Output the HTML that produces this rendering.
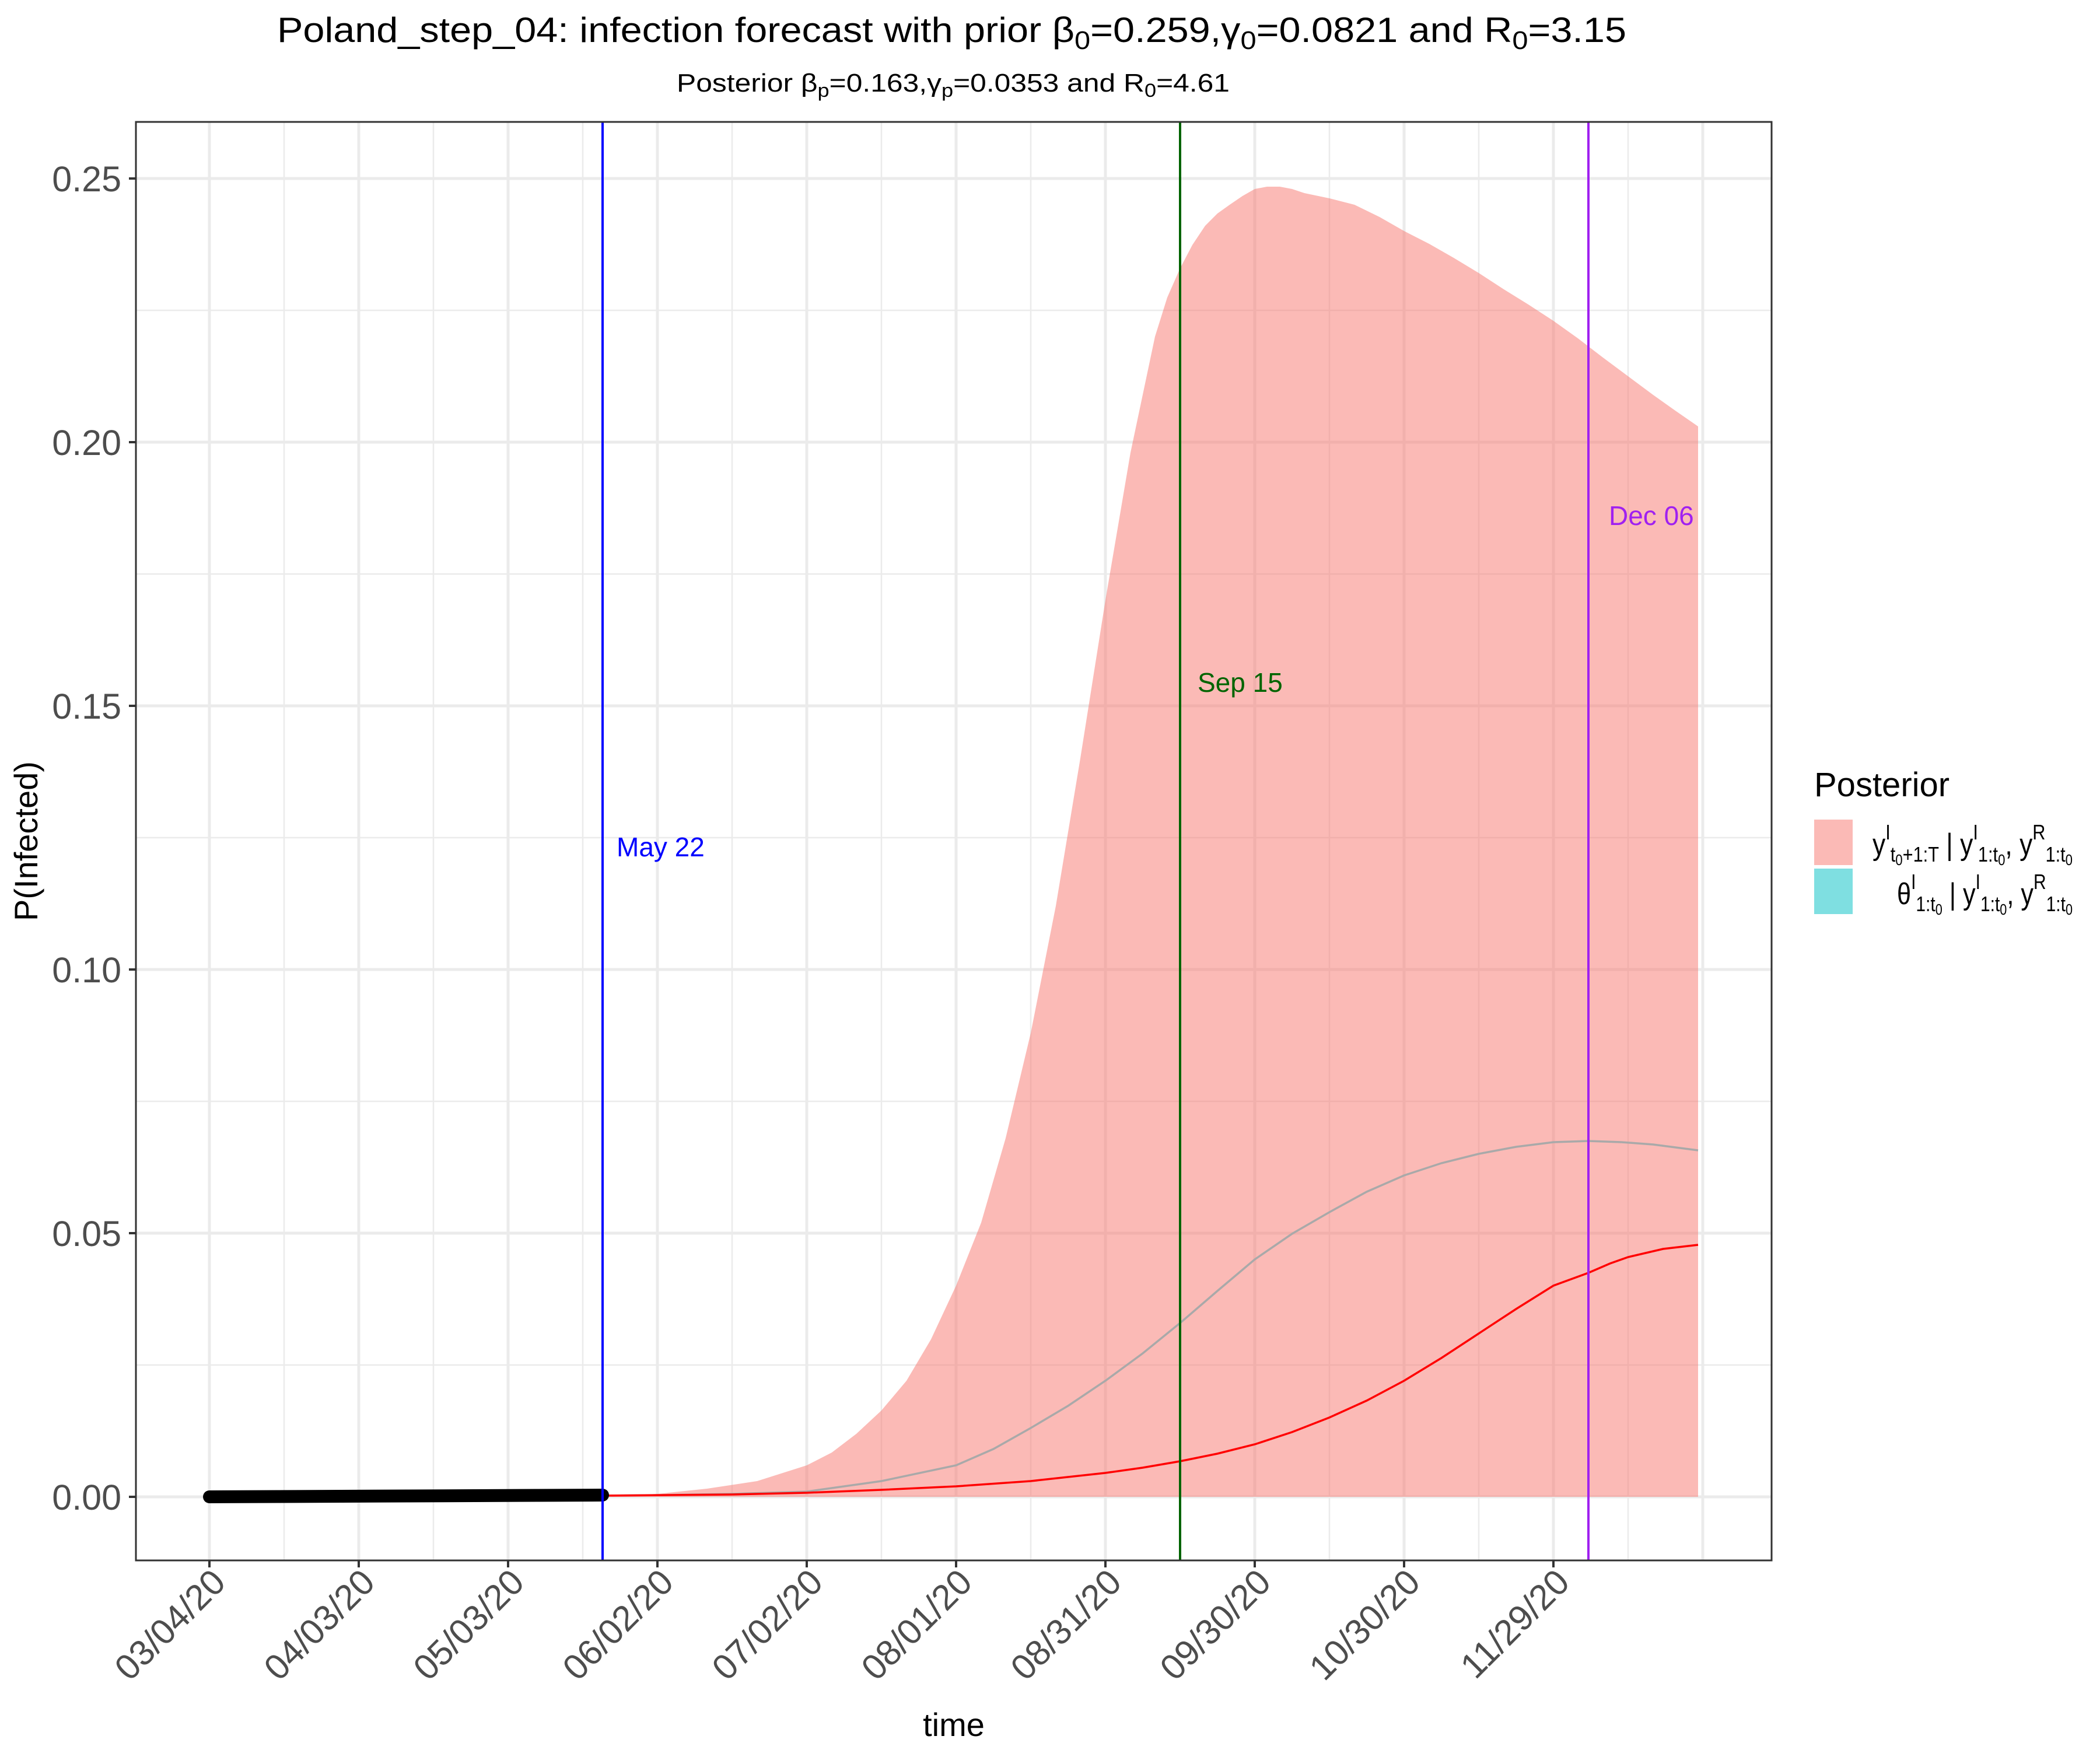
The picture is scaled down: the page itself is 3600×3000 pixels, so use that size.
<!DOCTYPE html>
<html><head><meta charset="utf-8"><style>html,body{margin:0;padding:0;background:#fff}svg{display:block}</style></head>
<body>
<svg xmlns="http://www.w3.org/2000/svg" width="3600" height="3000" viewBox="0 0 3600 3000" font-family="Liberation Sans, sans-serif">
<rect width="3600" height="3000" fill="#fff"/>
<g stroke="#EBEBEB" stroke-width="2.5">
<line x1="233" x2="3037" y1="2340" y2="2340"/><line x1="233" x2="3037" y1="1888" y2="1888"/><line x1="233" x2="3037" y1="1436" y2="1436"/><line x1="233" x2="3037" y1="984" y2="984"/><line x1="233" x2="3037" y1="532" y2="532"/>
<line y1="209" y2="2675" x1="487" x2="487"/><line y1="209" y2="2675" x1="743" x2="743"/><line y1="209" y2="2675" x1="999" x2="999"/><line y1="209" y2="2675" x1="1255" x2="1255"/><line y1="209" y2="2675" x1="1511" x2="1511"/><line y1="209" y2="2675" x1="1767" x2="1767"/><line y1="209" y2="2675" x1="2023" x2="2023"/><line y1="209" y2="2675" x1="2279" x2="2279"/><line y1="209" y2="2675" x1="2535" x2="2535"/><line y1="209" y2="2675" x1="2791" x2="2791"/>
</g>
<g stroke="#EBEBEB" stroke-width="5">
<line x1="233" x2="3037" y1="2566" y2="2566"/><line x1="233" x2="3037" y1="2114" y2="2114"/><line x1="233" x2="3037" y1="1662" y2="1662"/><line x1="233" x2="3037" y1="1210" y2="1210"/><line x1="233" x2="3037" y1="758" y2="758"/><line x1="233" x2="3037" y1="306" y2="306"/>
<line y1="209" y2="2675" x1="359" x2="359"/><line y1="209" y2="2675" x1="615" x2="615"/><line y1="209" y2="2675" x1="871" x2="871"/><line y1="209" y2="2675" x1="1127" x2="1127"/><line y1="209" y2="2675" x1="1383" x2="1383"/><line y1="209" y2="2675" x1="1639" x2="1639"/><line y1="209" y2="2675" x1="1895" x2="1895"/><line y1="209" y2="2675" x1="2151" x2="2151"/><line y1="209" y2="2675" x1="2407" x2="2407"/><line y1="209" y2="2675" x1="2663" x2="2663"/><line y1="209" y2="2675" x1="2919" x2="2919"/>
</g>
<path fill="#F8766D" fill-opacity="0.5" d="M1033,2566 L1042,2566 L1127,2561 L1212,2552 L1298,2539 L1383,2512 L1426,2490 L1468,2458 L1511,2418 L1554,2367 L1596,2296 L1639,2204 L1682,2096 L1724,1951 L1767,1771 L1810,1553 L1852,1300 L1895,1029 L1938,776 L1980,577 L2001,510 L2023,460 L2044,420 L2066,387 L2087,366 L2108,351 L2130,336 L2151,324 L2172,320 L2194,320 L2215,324 L2236,331 L2279,340 L2322,351 L2365,372 L2407,396 L2450,418 L2492,442 L2535,468 L2578,496 L2620,522 L2663,550 L2705,580 L2748,613 L2791,645 L2834,677 L2872,704 L2911,731 L2911,2566 Z"/>
<polyline fill="none" stroke="#A9A9A9" stroke-width="3.5" points="1033,2564 1127,2563 1255,2561 1383,2557 1511,2539 1639,2512 1703,2484 1767,2448 1831,2410 1895,2367 1959,2320 2023,2268 2087,2213 2151,2159 2215,2115 2279,2078 2343,2043 2407,2015 2471,1994 2535,1978 2599,1966 2663,1958 2723,1956 2780,1958 2834,1962 2911,1972"/>
<polyline fill="none" stroke="#FF0000" stroke-width="3.5" points="1033,2564 1255,2562 1383,2559 1511,2554 1639,2548 1767,2539 1895,2525 1959,2516 2023,2505 2087,2492 2151,2476 2215,2455 2279,2430 2343,2401 2407,2367 2471,2328 2535,2286 2599,2244 2663,2204 2723,2182 2760,2166 2791,2155 2851,2141 2911,2134"/>
<line x1="359" y1="2566" x2="1033" y2="2563" stroke="#000" stroke-width="22" stroke-linecap="round"/>
<line x1="1033" x2="1033" y1="209" y2="2675" stroke="#0000FF" stroke-width="4"/>
<line x1="2023" x2="2023" y1="209" y2="2675" stroke="#006400" stroke-width="4"/>
<line x1="2723" x2="2723" y1="209" y2="2675" stroke="#A020F0" stroke-width="4"/>
<text x="1057" y="1468" font-size="46" fill="#0000FF">May 22</text>
<text x="2053" y="1186" font-size="46" fill="#006400">Sep 15</text>
<text x="2758" y="900" font-size="46" fill="#A020F0">Dec 06</text>
<rect x="233" y="209" width="2804" height="2466" fill="none" stroke="#333" stroke-width="3"/>
<g stroke="#333" stroke-width="4">
<line x1="221" x2="233" y1="2566" y2="2566"/><line x1="221" x2="233" y1="2114" y2="2114"/><line x1="221" x2="233" y1="1662" y2="1662"/><line x1="221" x2="233" y1="1210" y2="1210"/><line x1="221" x2="233" y1="758" y2="758"/><line x1="221" x2="233" y1="306" y2="306"/>
<line y1="2675" y2="2687" x1="359" x2="359"/><line y1="2675" y2="2687" x1="615" x2="615"/><line y1="2675" y2="2687" x1="871" x2="871"/><line y1="2675" y2="2687" x1="1127" x2="1127"/><line y1="2675" y2="2687" x1="1383" x2="1383"/><line y1="2675" y2="2687" x1="1639" x2="1639"/><line y1="2675" y2="2687" x1="1895" x2="1895"/><line y1="2675" y2="2687" x1="2151" x2="2151"/><line y1="2675" y2="2687" x1="2407" x2="2407"/><line y1="2675" y2="2687" x1="2663" x2="2663"/>
</g>
<g font-size="61" fill="#4D4D4D" text-anchor="end">
<text x="208" y="2588">0.00</text><text x="208" y="2136">0.05</text><text x="208" y="1684">0.10</text><text x="208" y="1232">0.15</text><text x="208" y="780">0.20</text><text x="208" y="328">0.25</text>
</g>
<g font-size="61" fill="#4D4D4D" text-anchor="end">
<text transform="translate(390,2716) rotate(-45)">03/04/20</text>
<text transform="translate(646,2716) rotate(-45)">04/03/20</text>
<text transform="translate(902,2716) rotate(-45)">05/03/20</text>
<text transform="translate(1158,2716) rotate(-45)">06/02/20</text>
<text transform="translate(1414,2716) rotate(-45)">07/02/20</text>
<text transform="translate(1670,2716) rotate(-45)">08/01/20</text>
<text transform="translate(1926,2716) rotate(-45)">08/31/20</text>
<text transform="translate(2182,2716) rotate(-45)">09/30/20</text>
<text transform="translate(2438,2716) rotate(-45)">10/30/20</text>
<text transform="translate(2694,2716) rotate(-45)">11/29/20</text>
</g>
<text x="1635" y="2976" font-size="56" text-anchor="middle">time</text>
<text transform="translate(64,1442) rotate(-90)" font-size="56" text-anchor="middle">P(Infected)</text>
<text x="475" y="72" font-size="60" textLength="2313" lengthAdjust="spacingAndGlyphs">Poland_step_04: infection forecast with prior β<tspan font-size="44" dy="12">0</tspan><tspan dy="-12">=0.259,γ</tspan><tspan font-size="44" dy="12">0</tspan><tspan dy="-12">=0.0821 and R</tspan><tspan font-size="44" dy="12">0</tspan><tspan dy="-12">=3.15</tspan></text>
<text x="1160" y="157" font-size="44" textLength="948" lengthAdjust="spacingAndGlyphs">Posterior β<tspan font-size="32" dy="9">p</tspan><tspan dy="-9">=0.163,γ</tspan><tspan font-size="32" dy="9">p</tspan><tspan dy="-9">=0.0353 and R</tspan><tspan font-size="32" dy="9">0</tspan><tspan dy="-9">=4.61</tspan></text>
<text x="3110" y="1365" font-size="58">Posterior</text>
<rect x="3110" y="1405" width="66" height="78" fill="#F8766D" fill-opacity="0.5"/>
<rect x="3110" y="1489" width="66" height="78" fill="#00BFC4" fill-opacity="0.5"/>
<text x="3210" y="1465" font-size="52" textLength="343" lengthAdjust="spacingAndGlyphs">y<tspan font-size="36" dy="-26">I</tspan><tspan font-size="36" dy="38">t</tspan><tspan font-size="26" dy="6">0</tspan><tspan font-size="36" dy="-6">+1:T</tspan><tspan dy="-12"> | y</tspan><tspan font-size="36" dy="-26">I</tspan><tspan font-size="36" dy="38">1:t</tspan><tspan font-size="26" dy="6">0</tspan><tspan dy="-18">, y</tspan><tspan font-size="36" dy="-26">R</tspan><tspan font-size="36" dy="38">1:t</tspan><tspan font-size="26" dy="6">0</tspan></text>
<text x="3252" y="1550" font-size="52" textLength="301" lengthAdjust="spacingAndGlyphs">θ<tspan font-size="36" dy="-26">I</tspan><tspan font-size="36" dy="38">1:t</tspan><tspan font-size="26" dy="6">0</tspan><tspan dy="-18"> | y</tspan><tspan font-size="36" dy="-26">I</tspan><tspan font-size="36" dy="38">1:t</tspan><tspan font-size="26" dy="6">0</tspan><tspan dy="-18">, y</tspan><tspan font-size="36" dy="-26">R</tspan><tspan font-size="36" dy="38">1:t</tspan><tspan font-size="26" dy="6">0</tspan></text>
</svg>
</body></html>
